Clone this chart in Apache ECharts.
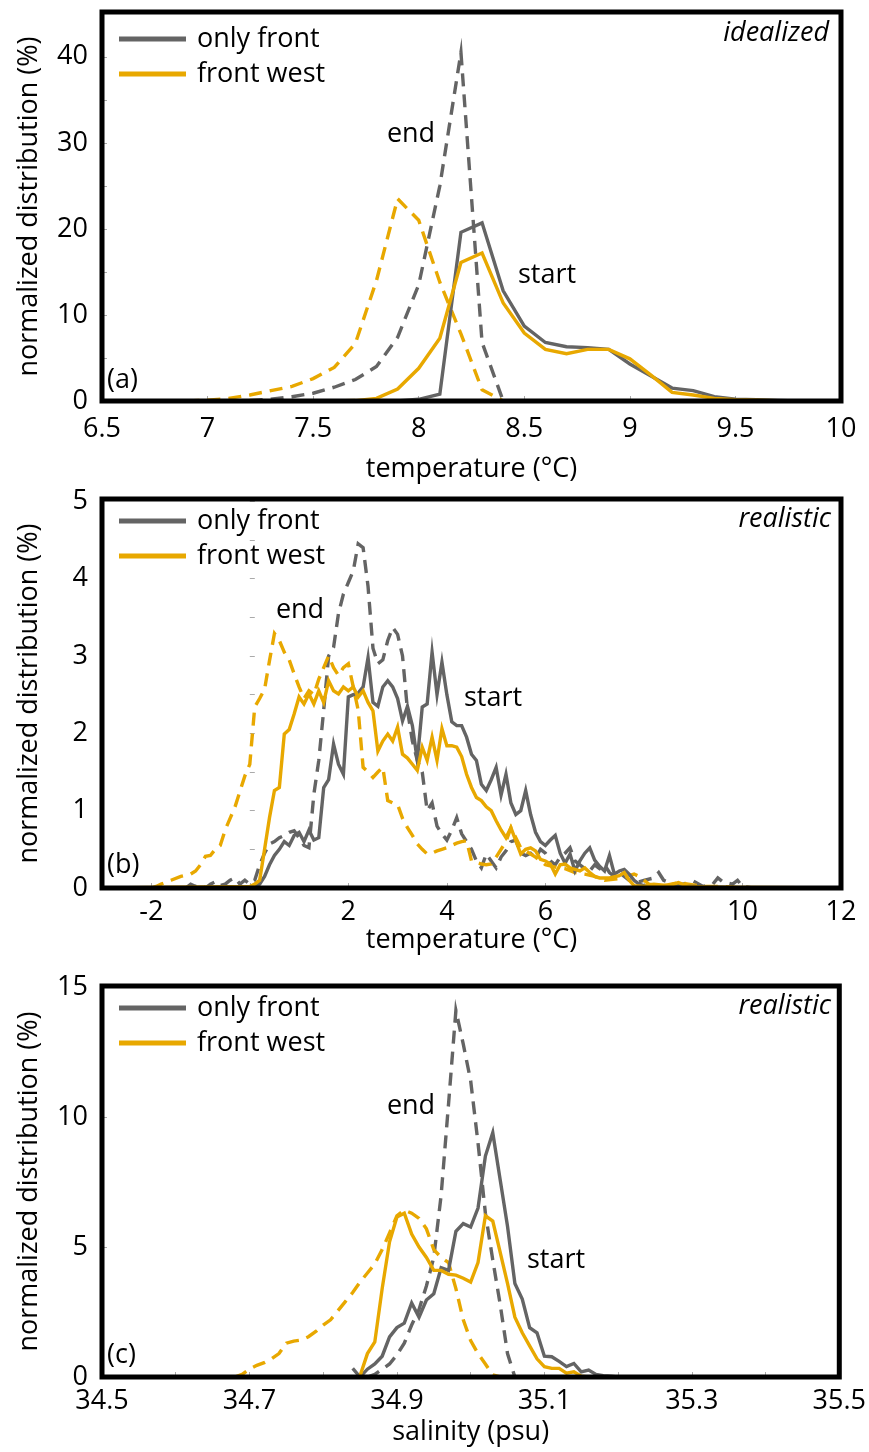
<!DOCTYPE html>
<html>
<head>
<meta charset="utf-8">
<script src="https://cdn.jsdelivr.net/npm/echarts@6/dist/echarts.min.js"></script>
<style>
html,body{margin:0;padding:0;background:#fff;}
#chart{width:869px;height:1452px;}
</style>
</head>
<body>
<div id="chart"></div>
<script>
// ---------- DATA ----------
const seriesNames = ['only front', 'front west'];

// Panel (a): idealized, temperature (°C) vs normalized distribution (%)
const aOnlyStart = [[6.5,0],[7.9,0],[8.0,0.2],[8.1,0.8],[8.2,19.6],[8.3,20.7],[8.4,12.8],[8.5,8.7],[8.6,6.8],[8.7,6.3],[8.8,6.2],[8.9,6.0],[9.0,4.3],[9.1,2.9],[9.2,1.5],[9.3,1.2],[9.4,0.5],[9.5,0.2],[9.6,0.15],[9.7,0.05],[9.8,0],[10,0]];
const aWestStart = [[6.5,0],[7.6,0],[7.7,0.05],[7.8,0.3],[7.9,1.4],[8.0,3.8],[8.1,7.3],[8.2,16.1],[8.3,17.2],[8.4,11.4],[8.5,7.9],[8.6,6.0],[8.7,5.5],[8.8,6.0],[8.9,6.0],[9.0,4.9],[9.1,3.0],[9.2,1.0],[9.3,0.7],[9.4,0.3],[9.5,0.15],[9.6,0.08],[9.7,0.03],[9.8,0],[10,0]];
const aOnlyEnd = [[7.1,0],[7.2,0.05],[7.3,0.2],[7.4,0.5],[7.5,0.9],[7.6,1.6],[7.7,2.5],[7.8,4.0],[7.9,7.4],[8.0,13.5],[8.1,25.0],[8.2,40.5],[8.3,6.8],[8.4,0]];
const aWestEnd = [[6.9,0],[7.0,0.1],[7.1,0.3],[7.2,0.7],[7.3,1.2],[7.4,1.7],[7.5,2.6],[7.6,3.9],[7.7,6.7],[7.8,14.0],[7.9,23.5],[8.0,21.0],[8.1,13.8],[8.2,7.8],[8.3,1.3],[8.4,0]];

// Panel (b): realistic, temperature (°C)
const bOnlyStart = [[-3,0],[0.0,0],[0.1,0.02],[0.2,0.05],[0.3,0.15],[0.4,0.3],[0.5,0.42],[0.6,0.5],[0.7,0.6],[0.8,0.55],[0.9,0.68],[1.0,0.72],[1.1,0.6],[1.2,0.75],[1.3,0.62],[1.4,0.65],[1.5,1.3],[1.6,1.4],[1.7,1.86],[1.8,1.6],[1.9,1.47],[2.0,2.47],[2.1,2.5],[2.2,2.52],[2.3,2.6],[2.4,2.98],[2.5,2.4],[2.6,2.35],[2.7,2.6],[2.8,2.68],[2.9,2.6],[3.0,2.45],[3.1,2.16],[3.2,2.35],[3.3,2.1],[3.4,1.65],[3.5,2.34],[3.6,2.38],[3.7,3.05],[3.8,2.5],[3.9,2.92],[4.0,2.5],[4.1,2.15],[4.2,2.1],[4.3,2.1],[4.4,1.95],[4.5,1.73],[4.6,1.65],[4.7,1.34],[4.8,1.26],[4.9,1.4],[5.0,1.56],[5.1,1.2],[5.2,1.47],[5.3,1.1],[5.4,0.95],[5.5,1.0],[5.6,1.26],[5.7,0.95],[5.8,0.72],[5.9,0.6],[6.0,0.55],[6.1,0.62],[6.2,0.68],[6.3,0.45],[6.4,0.32],[6.5,0.44],[6.6,0.22],[6.7,0.35],[6.8,0.45],[6.9,0.52],[7.0,0.36],[7.1,0.28],[7.2,0.22],[7.3,0.42],[7.4,0.18],[7.5,0.22],[7.6,0.24],[7.7,0.18],[7.8,0.1],[7.9,0.05],[8.0,0.03],[9.0,0.02],[10.0,0],[12,0]];
const bWestStart = [[-3,0],[0.0,0.02],[0.1,0.05],[0.2,0.1],[0.3,0.5],[0.4,0.91],[0.5,1.26],[0.6,1.3],[0.7,1.99],[0.8,2.05],[0.9,2.25],[1.0,2.47],[1.1,2.38],[1.2,2.51],[1.3,2.38],[1.4,2.55],[1.5,2.4],[1.6,2.68],[1.7,2.55],[1.8,2.51],[1.9,2.6],[2.0,2.55],[2.1,2.6],[2.2,2.47],[2.3,2.55],[2.4,2.4],[2.5,2.29],[2.6,1.77],[2.7,1.9],[2.8,1.99],[2.9,1.9],[3.0,2.08],[3.1,1.73],[3.2,1.68],[3.3,1.6],[3.4,1.52],[3.5,1.82],[3.6,1.65],[3.7,1.95],[3.8,1.65],[3.9,2.06],[4.0,1.84],[4.1,1.84],[4.2,1.82],[4.3,1.7],[4.4,1.47],[4.5,1.3],[4.6,1.17],[4.7,1.13],[4.8,1.05],[4.9,1.0],[5.0,0.87],[5.1,0.75],[5.2,0.65],[5.3,0.78],[5.4,0.61],[5.5,0.44],[5.6,0.5],[5.7,0.52],[5.8,0.48],[5.9,0.37],[6.0,0.35],[6.1,0.31],[6.2,0.18],[6.3,0.3],[6.4,0.31],[6.5,0.26],[6.6,0.24],[6.7,0.22],[6.8,0.26],[6.9,0.2],[7.0,0.15],[7.1,0.13],[7.3,0.13],[7.5,0.16],[7.6,0.2],[7.7,0.1],[7.8,0.03],[8.0,0.02],[8.2,0.05],[8.5,0.03],[8.7,0.07],[8.9,0.02],[9.5,0.01],[12,0]];
const bOnlyEnd = [[-1.3,0],[-1.2,0.05],[-1.1,0.02],[-1.0,0.05],[-0.9,0],[-0.8,0.05],[-0.7,0.08],[-0.6,0.03],[-0.5,0.05],[-0.4,0.1],[-0.3,0.13],[-0.2,0.05],[-0.1,0.1],[0.0,0.05],[0.1,0.1],[0.2,0.3],[0.3,0.45],[0.4,0.57],[0.5,0.6],[0.6,0.65],[0.7,0.68],[0.8,0.72],[0.9,0.74],[1.0,0.65],[1.1,0.55],[1.2,0.52],[1.3,1.21],[1.4,1.65],[1.5,2.3],[1.6,3.0],[1.7,3.11],[1.8,3.55],[1.9,3.8],[2.0,3.95],[2.1,4.1],[2.2,4.45],[2.3,4.4],[2.4,3.9],[2.5,3.1],[2.6,2.9],[2.7,2.95],[2.8,3.2],[2.9,3.37],[3.0,3.28],[3.1,3.0],[3.2,2.3],[3.3,1.9],[3.4,1.65],[3.5,1.5],[3.6,1.0],[3.7,1.1],[3.8,0.8],[3.9,0.7],[4.0,0.62],[4.1,0.75],[4.2,0.91],[4.3,0.7],[4.4,0.6],[4.5,0.5],[4.6,0.35],[4.7,0.26],[4.8,0.44],[4.9,0.35],[5.0,0.26],[5.1,0.4],[5.2,0.48],[5.3,0.6],[5.4,0.62],[5.5,0.45],[5.6,0.42],[5.7,0.45],[5.8,0.39],[5.9,0.5],[6.0,0.45],[6.1,0.35],[6.2,0.3],[6.3,0.4],[6.4,0.45],[6.5,0.52],[6.6,0.35],[6.7,0.3],[6.8,0.25],[6.9,0.22],[7.0,0.3],[7.1,0.25],[7.2,0.3],[7.3,0.2],[7.4,0.15],[7.5,0.2],[7.6,0.15],[7.7,0.1],[7.8,0.1],[7.9,0.08],[8.0,0.1],[8.2,0.13],[8.3,0.2],[8.4,0.1],[8.6,0.05],[8.8,0.05],[9.0,0.09],[9.2,0.02],[9.4,0.05],[9.5,0.13],[9.6,0.08],[9.8,0.05],[9.9,0.1],[10.0,0.02],[10.2,0]];
const bWestEnd = [[-2.0,0],[-1.9,0.02],[-1.8,0.05],[-1.6,0.1],[-1.4,0.15],[-1.2,0.18],[-1.1,0.22],[-1.0,0.3],[-0.9,0.41],[-0.8,0.42],[-0.7,0.5],[-0.6,0.55],[-0.5,0.75],[-0.4,0.9],[-0.3,1.05],[-0.2,1.25],[-0.1,1.45],[0.0,1.6],[0.1,2.34],[0.2,2.45],[0.3,2.57],[0.4,2.94],[0.5,3.29],[0.6,3.2],[0.7,3.05],[0.8,2.95],[0.9,2.77],[1.0,2.6],[1.1,2.45],[1.2,2.55],[1.3,2.5],[1.4,2.7],[1.5,2.85],[1.6,3.0],[1.7,2.85],[1.8,2.75],[1.9,2.85],[2.0,2.9],[2.1,2.6],[2.2,2.3],[2.3,1.56],[2.4,1.5],[2.5,1.43],[2.6,1.5],[2.7,1.56],[2.8,1.13],[2.9,1.1],[3.0,1.08],[3.1,0.9],[3.2,0.78],[3.3,0.68],[3.4,0.57],[3.5,0.5],[3.6,0.44],[3.7,0.45],[3.8,0.48],[3.9,0.5],[4.0,0.52],[4.1,0.55],[4.2,0.58],[4.3,0.6],[4.4,0.61],[4.5,0.35],[4.6,0.33],[4.7,0.31],[4.8,0.3],[4.9,0.31],[5.0,0.4],[5.2,0.6],[5.3,0.78],[5.4,0.65],[5.5,0.52],[5.6,0.48],[5.7,0.44],[5.8,0.4],[5.9,0.35],[6.0,0.3],[6.2,0.27],[6.4,0.25],[6.6,0.2],[6.8,0.18],[7.0,0.15],[7.2,0.1],[7.5,0.12],[7.8,0.18],[7.9,0.15],[8.1,0.05],[8.4,0.03],[8.7,0.07],[8.9,0.05],[9.2,0.02],[9.6,0.02],[10.0,0]];

// Panel (c): realistic, salinity (psu)
const cOnlyStart = [[34.84,0.33],[34.85,0],[34.86,0.3],[34.87,0.5],[34.88,0.8],[34.89,1.54],[34.90,1.9],[34.91,2.07],[34.92,2.85],[34.93,2.3],[34.94,2.96],[34.95,3.2],[34.96,4.2],[34.97,4.1],[34.98,5.6],[34.99,5.9],[35.00,5.77],[35.01,6.5],[35.02,8.5],[35.03,9.4],[35.04,7.6],[35.05,5.8],[35.06,3.6],[35.07,3.0],[35.08,1.9],[35.09,1.7],[35.10,0.8],[35.11,0.78],[35.12,0.6],[35.13,0.4],[35.14,0.52],[35.15,0.2],[35.16,0.27],[35.17,0.1],[35.18,0.05],[35.19,0.03],[35.20,0]];
const cWestStart = [[34.85,0.05],[34.86,0.9],[34.87,1.35],[34.88,3.4],[34.89,5.2],[34.90,6.15],[34.91,6.3],[34.92,5.5],[34.93,5.0],[34.94,4.6],[34.95,4.1],[34.96,4.1],[34.97,3.95],[34.98,3.92],[34.99,3.8],[35.00,3.65],[35.01,4.4],[35.02,6.2],[35.03,6.0],[35.04,4.8],[35.05,3.6],[35.06,2.3],[35.07,1.7],[35.08,1.2],[35.09,0.7],[35.10,0.4],[35.11,0.33],[35.12,0.33],[35.13,0.15],[35.14,0.2],[35.15,0.03],[35.16,0]];
const cOnlyEnd = [[34.86,0],[34.87,0.1],[34.88,0.3],[34.89,0.5],[34.90,0.85],[34.91,1.3],[34.92,2.0],[34.93,2.6],[34.94,3.5],[34.95,4.6],[34.96,7.0],[34.97,10.5],[34.98,14.1],[34.99,12.8],[35.00,11.4],[35.01,9.0],[35.02,6.3],[35.03,4.5],[35.04,2.8],[35.05,0.9],[35.06,0]];
const cWestEnd = [[34.68,0],[34.69,0.1],[34.70,0.3],[34.71,0.45],[34.72,0.55],[34.73,0.7],[34.74,0.9],[34.75,1.3],[34.76,1.38],[34.77,1.42],[34.78,1.55],[34.79,1.75],[34.80,2.0],[34.81,2.2],[34.82,2.55],[34.83,2.9],[34.84,3.25],[34.85,3.65],[34.86,4.0],[34.87,4.35],[34.88,4.9],[34.89,5.54],[34.90,6.2],[34.91,6.42],[34.92,6.3],[34.93,6.1],[34.94,5.7],[34.95,4.9],[34.96,4.6],[34.97,4.4],[34.98,3.4],[34.99,2.2],[35.00,1.4],[35.01,0.9],[35.02,0.5],[35.03,0.08],[35.04,0]];

// Tick values / labels
const aXTicks = [6.5,7,7.5,8,8.5,9,9.5,10];
const aYTicks = [0,5,10,15,20,25,30,35,40,45];
const aYLabels = [0,10,20,30,40];
const bXTicks = [-2,0,2,4,6,8,10,12];
const bYTicks = [0,0.5,1,1.5,2,2.5,3,3.5,4,4.5,5];
const bYLabels = [0,1,2,3,4,5];
const cXTicks = [34.5,34.6,34.7,34.8,34.9,35.0,35.1,35.2,35.3,35.4,35.5];
const cXLabels = [34.5,34.7,34.9,35.1,35.3,35.5];
const cYTicks = [0,5,10,15];
const cYLabels = [0,5,10,15];

// ---------- STYLE / LAYOUT ----------
const FONT = '"Open Sans", "DejaVu Sans", sans-serif';
const GRAY = '#646464';
const GOLD = '#E8A800';
const FS = 27;
const LW = 3.4;
const DASH = [13, 8];

const panels = [
  {top:12, height:389, xMin:6.5, xMax:10, yMax:45.2, xTicks:aXTicks, xLabels:aXTicks, yTicks:aYTicks, yLabels:aYLabels,
   xName:'temperature (°C)', xLabelMargin:15, xNameGap:55, legendTop:19,
   series:[aOnlyStart, aWestStart, aOnlyEnd, aWestEnd]},
  {top:499, height:389, xMin:-3, xMax:12, yMax:5.03, xTicks:bXTicks, xLabels:bXTicks, yTicks:bYTicks, yLabels:bYLabels,
   xName:'temperature (°C)', xLabelMargin:11, xNameGap:38, legendTop:501,
   series:[bOnlyStart, bWestStart, bOnlyEnd, bWestEnd]},
  {top:986, height:391, xMin:34.5, xMax:35.5, yMax:15.04, xTicks:cXTicks, xLabels:cXLabels, yTicks:cYTicks, yLabels:cYLabels,
   xName:'salinity (psu)', xLabelMargin:11, xNameGap:42, legendTop:988,
   series:[cOnlyStart, cWestStart, cOnlyEnd, cWestEnd]}
];

const grid = [], xAxis = [], yAxis = [], series = [], legend = [];
panels.forEach((p, i) => {
  grid.push({left:102, width:739, top:p.top, height:p.height, show:true, borderColor:'#000', borderWidth:5, backgroundColor:'transparent', z:10});
  xAxis.push({
    type:'value', gridIndex:i, min:p.xMin, max:p.xMax,
    axisLine:{show:false}, splitLine:{show:false},
    axisTick:{show:true, inside:true, length:5, lineStyle:{color:'#aaaaaa', width:1}, customValues:p.xTicks},
    axisLabel:{customValues:p.xLabels, margin:p.xLabelMargin, color:'#000', fontSize:FS, fontFamily:FONT, showMinLabel:true, showMaxLabel:true},
    name:p.xName, nameLocation:'middle', nameGap:p.xNameGap,
    nameTextStyle:{color:'#000', fontSize:FS, fontFamily:FONT}
  });
  yAxis.push({
    type:'value', gridIndex:i, min:0, max:p.yMax,
    axisLine:{show:false}, splitLine:{show:false},
    axisTick:{show:true, inside:true, length:5, lineStyle:{color:'#aaaaaa', width:1}, customValues:p.yTicks},
    axisLabel:{customValues:p.yLabels, margin:14, color:'#000', fontSize:FS, fontFamily:FONT},
    name:'normalized distribution (%)', nameLocation:'middle', nameGap:59,
    nameTextStyle:{color:'#000', fontSize:FS, fontFamily:FONT}
  });
  const styles = [
    {name:seriesNames[0], color:GRAY, dash:'solid'},
    {name:seriesNames[1], color:GOLD, dash:'solid'},
    {name:seriesNames[0], color:GRAY, dash:DASH},
    {name:seriesNames[1], color:GOLD, dash:DASH}
  ];
  // draw dashed first, solid on top
  [2,3,0,1].forEach(k => {
    const s = styles[k];
    series.push({
      type:'line', name:s.name, xAxisIndex:i, yAxisIndex:i, data:p.series[k],
      symbol:'none', smooth:false, clip:true, animation:false,
      lineStyle:{color:s.color, width:LW, type:s.dash, cap:'butt', join:'miter'},
      itemStyle:{color:s.color}
    });
  });
  legend.push({
    left:114, top:p.legendTop, orient:'vertical', icon:'rect', itemWidth:67, itemHeight:5, itemGap:5,
    selectedMode:false, data:seriesNames,
    textStyle:{color:'#000', fontSize:FS, fontFamily:FONT, lineHeight:30, padding:[0,0,0,6]}
  });
});

function txt(x, y, text, opts) {
  return {type:'text', x:x, y:y, z:100,
    style:{text:text, fill:'#000', font:(opts && opts.italic ? 'italic ' : '') + FS + 'px ' + FONT,
      align:(opts && opts.align) || 'center', verticalAlign:'middle'}};
}

const graphic = [
  txt(829, 33, 'idealized', {italic:true, align:'right'}),
  txt(831, 519, 'realistic', {italic:true, align:'right'}),
  txt(831, 1006, 'realistic', {italic:true, align:'right'}),
  txt(107, 380, '(a)', {align:'left'}),
  txt(107, 865, '(b)', {align:'left'}),
  txt(107, 1355, '(c)', {align:'left'}),
  txt(411, 134, 'end'),
  txt(547, 275, 'start'),
  txt(300, 610, 'end'),
  txt(493, 698, 'start'),
  txt(411, 1106, 'end'),
  txt(556, 1260, 'start')
];

const chart = echarts.init(document.getElementById('chart'), null, {renderer:'canvas'});
chart.setOption({
  animation:false,
  backgroundColor:'#fff',
  grid, xAxis, yAxis, series, legend, graphic
});
</script>
</body>
</html>
